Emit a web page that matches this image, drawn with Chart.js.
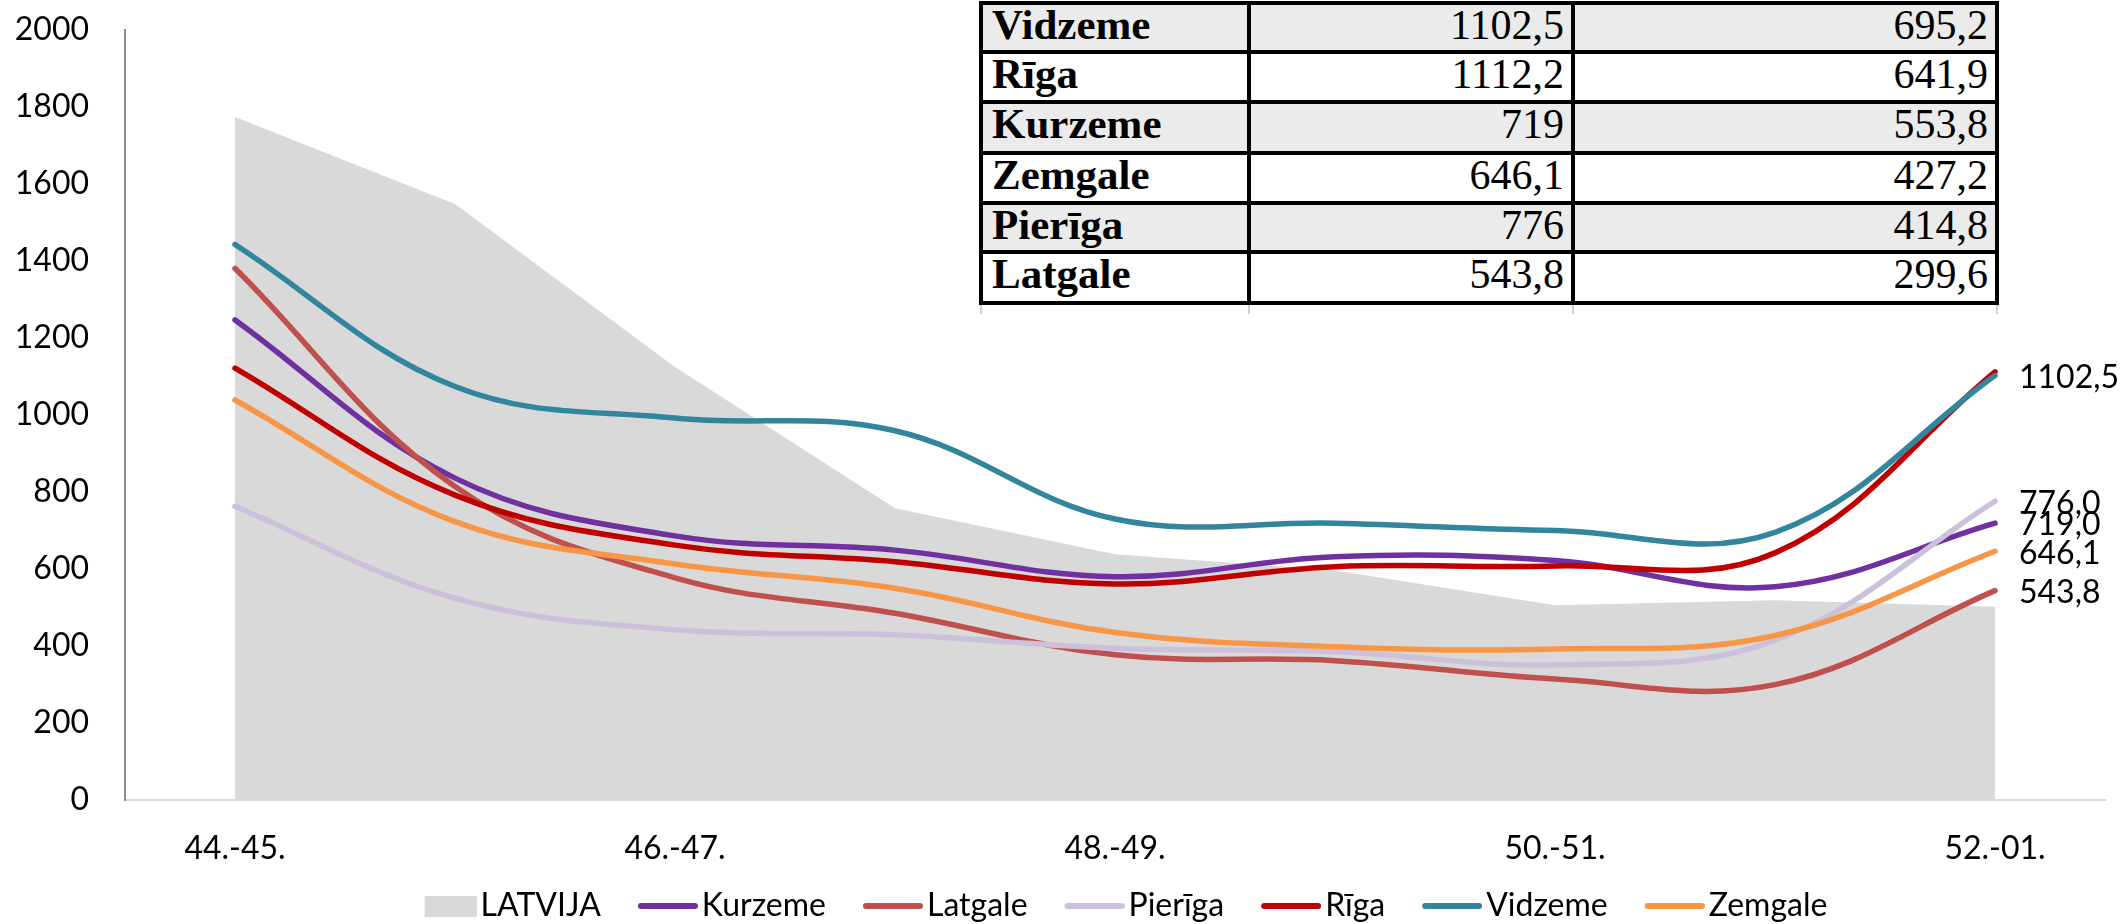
<!DOCTYPE html>
<html><head><meta charset="utf-8">
<script src="https://cdn.jsdelivr.net/npm/chart.js@4.4.0/dist/chart.umd.min.js"></script>
<style>
html,body{margin:0;padding:0;background:#fff;}
#wrap{position:relative;width:2126px;height:924px;overflow:hidden;background:#fff;}
#c{position:absolute;left:0;top:0;}
.cell{position:absolute;box-sizing:border-box;white-space:nowrap;overflow:hidden;color:#000;}
.name{font-family:"Liberation Serif",serif;font-weight:bold;font-size:43px;line-height:40px;padding-left:9px;text-align:left;}
.num{font-family:"Liberation Serif",serif;font-size:42px;line-height:40px;padding-right:7px;text-align:right;}
.ln{position:absolute;background:#000;}
.gl{position:absolute;background:#d0d0d0;}
</style></head><body>
<div id="wrap"><canvas id="c" width="2126" height="924"></canvas><div id="tbl"></div></div>
<script>
// ---- data ----
const categories = ['44.-45.','45.-46.','46.-47.','47.-48.','48.-49.','49.-50.','50.-51.','51.-52.','52.-01.'];
const seriesNames = ['LATVIJA','Kurzeme','Latgale','Pierīga','Rīga','Vidzeme','Zemgale'];
const latvija = [1774, 1548, 1125, 758, 638, 596, 506, 519, 502];
const kurzeme = [1247, 836, 686, 649, 580, 632, 622, 553.8, 719];
const latgale = [1381, 814, 577, 485, 377, 362, 314, 299.6, 543.8];
const pieriga = [763, 524, 442, 429, 394, 385, 351, 414.8, 776];
const riga    = [1122, 792, 662, 619, 561, 606, 608, 641.9, 1112.2];
const vidzeme = [1443, 1074, 992, 959, 730, 719, 700, 695.2, 1102.5];
const zemgale = [1039, 723, 613, 550, 435, 398, 392, 427.2, 646.1];
const yMin = 0, yMax = 2000, yStep = 200;
const labeledSeries = ['Vidzeme','Pierīga','Kurzeme','Zemgale','Latgale'];
const tableOrder = ['Vidzeme','Rīga','Kurzeme','Zemgale','Pierīga','Latgale'];

// ---- styles ----
const colors = {
  'LATVIJA':'#d9d9d9','Kurzeme':'#7030a0','Latgale':'#c0504d','Pierīga':'#ccc0da',
  'Rīga':'#c00000','Vidzeme':'#31859c','Zemgale':'#f79646'
};
const seriesData = {
  'LATVIJA':latvija,'Kurzeme':kurzeme,'Latgale':latgale,'Pierīga':pieriga,
  'Rīga':riga,'Vidzeme':vidzeme,'Zemgale':zemgale
};

function legendImage(name){
  const cv = document.createElement('canvas');
  if (name === 'LATVIJA') {
    cv.width = 86; cv.height = 21;
    const g = cv.getContext('2d');
    g.fillStyle = colors[name];
    g.fillRect(34, 0, 52, 21);
  } else {
    cv.width = 86; cv.height = 8;
    const g = cv.getContext('2d');
    g.strokeStyle = colors[name];
    g.lineWidth = 6; g.lineCap = 'round';
    g.beginPath(); g.moveTo(29, 4); g.lineTo(83, 4); g.stroke();
  }
  return cv;
}

const endLabels = {
  id: 'endLabels',
  afterDatasetsDraw(chart) {
    const ctx = chart.ctx;
    ctx.save();
    ctx.font = '32px Lato';
    ctx.fillStyle = '#000';
    ctx.textAlign = 'left';
    ctx.textBaseline = 'middle';
    chart.data.datasets.forEach((ds, i) => {
      if (!labeledSeries.includes(ds.label)) return;
      const meta = chart.getDatasetMeta(i);
      const pt = meta.data[meta.data.length - 1];
      const v = ds.data[ds.data.length - 1];
      ctx.fillText(v.toFixed(1).replace('.', ','), pt.x + 24, pt.y + 2);
    });
    ctx.restore();
  }
};

function buildTable(){
  const tbl = document.getElementById('tbl');
  const xs = [981, 1249, 1573, 1997];
  const ys = [3, 52, 102, 153, 203, 252, 303];
  const fmt = v => String(v).replace('.', ',');
  tableOrder.forEach((name, r) => {
    const d = seriesData[name];
    const vals = [name, fmt(d[d.length - 1]), fmt(d[d.length - 2])];
    const bg = (r % 2 === 0) ? '#ebebeb' : '#ffffff';
    for (let c = 0; c < 3; c++) {
      const el = document.createElement('div');
      el.className = 'cell ' + (c === 0 ? 'name' : 'num');
      el.style.left = (xs[c] + 2) + 'px';
      el.style.top = (ys[r] + 2) + 'px';
      el.style.width = (xs[c + 1] - xs[c] - 4) + 'px';
      el.style.height = (ys[r + 1] - ys[r] - 4) + 'px';
      el.style.background = bg;
      el.textContent = vals[c];
      tbl.appendChild(el);
    }
  });
  ys.forEach(y => {
    const l = document.createElement('div');
    l.className = 'ln';
    l.style.left = (xs[0] - 2) + 'px'; l.style.top = (y - 2) + 'px';
    l.style.width = (xs[3] - xs[0] + 4) + 'px'; l.style.height = '4px';
    tbl.appendChild(l);
  });
  xs.forEach(x => {
    const l = document.createElement('div');
    l.className = 'ln';
    l.style.left = (x - 2) + 'px'; l.style.top = '1px';
    l.style.width = '4px'; l.style.height = (ys[6] + 2 - 1) + 'px';
    tbl.appendChild(l);
    const g = document.createElement('div');
    g.className = 'gl';
    g.style.left = (x - 1) + 'px'; g.style.top = (ys[6] + 2) + 'px';
    g.style.width = '2px'; g.style.height = '9px';
    tbl.appendChild(g);
  });
}

function draw(){
  const datasets = seriesNames.map((name, i) => {
    if (name === 'LATVIJA') {
      return {
        label: name, data: seriesData[name], fill: 'origin',
        backgroundColor: colors[name], borderColor: 'rgba(0,0,0,0)', borderWidth: 0,
        pointRadius: 0, tension: 0, order: 10
      };
    }
    return {
      label: name, data: seriesData[name], fill: false,
      borderColor: colors[name], backgroundColor: colors[name], borderWidth: 5.5,
      pointRadius: 0, tension: 0.38, order: 7 - i, borderCapStyle: 'round', borderJoinStyle: 'round'
    };
  });

  new Chart(document.getElementById('c'), {
    type: 'line',
    data: { labels: categories, datasets },
    plugins: [endLabels],
    options: {
      responsive: false,
      animation: false,
      devicePixelRatio: 1,
      layout: { padding: { top: 30, right: 21, bottom: -8, left: 0 } },
      plugins: {
        tooltip: { enabled: false },
        legend: {
          position: 'bottom',
          fullSize: false,
          labels: {
            usePointStyle: true,
            pointStyleWidth: 62,
            padding: 23,
            color: '#000',
            font: { family: 'Lato', size: 32 },
            generateLabels: (chart) => chart.data.datasets.map((ds, i) => ({
              text: ds.label,
              datasetIndex: i,
              pointStyle: legendImage(ds.label),
              fillStyle: colors[ds.label],
              strokeStyle: 'rgba(0,0,0,0)',
              lineWidth: 0,
              hidden: false,
              fontColor: '#000'
            }))
          }
        }
      },
      scales: {
        x: {
          offset: true,
          grid: { display: false, drawTicks: false },
          border: { display: true, color: '#d9d9d9', width: 2 },
          ticks: {
            autoSkip: false, maxRotation: 0, padding: 29, color: '#000',
            font: { family: 'Lato', size: 32 },
            callback: (v, idx) => (idx % 2 === 0 ? categories[idx] : '')
          },
          afterFit: (s) => { s.height = 67; }
        },
        y: {
          min: yMin, max: yMax,
          grid: { display: false, drawTicks: false },
          border: { display: true, color: '#8c8c8c', width: 2 },
          ticks: {
            stepSize: yStep, padding: 36, color: '#000',
            font: { family: 'Lato', size: 32 },
            callback: (v) => String(v)
          },
          afterFit: (s) => { s.width = 125; s.paddingTop = 0; s.paddingBottom = 0; }
        }
      }
    }
  });
}

buildTable();
Promise.all([
  document.fonts.load('32px Lato'),
  document.fonts.load('bold 43px "Liberation Serif"'),
  document.fonts.load('42px "Liberation Serif"')
]).then(draw, draw);
</script>
</body></html>
